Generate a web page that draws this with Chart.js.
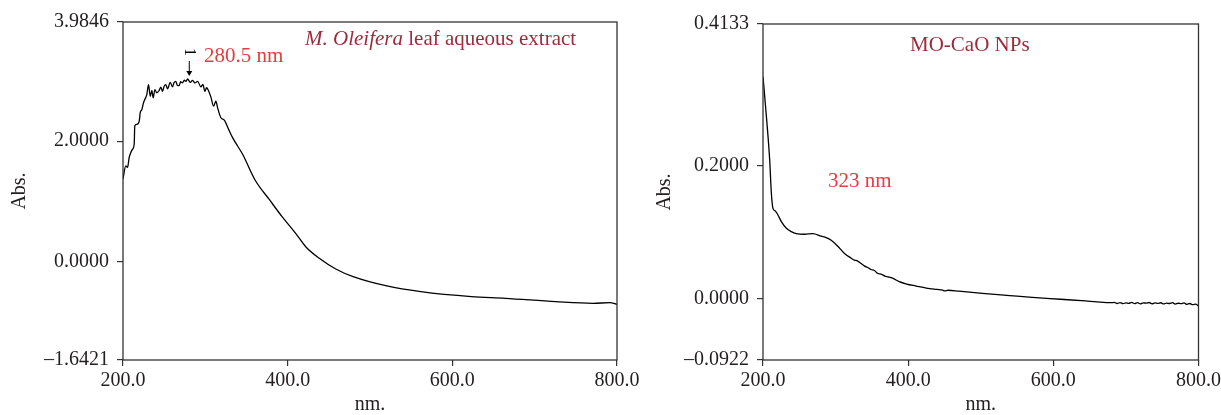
<!DOCTYPE html>
<html>
<head>
<meta charset="utf-8">
<script src="https://cdn.jsdelivr.net/npm/chart.js@4.4.1/dist/chart.umd.min.js"></script>
<style>
  html, body { margin: 0; padding: 0; background: #fff; overflow: hidden; }
  #wrap { position: relative; width: 1221px; height: 415px; }
  .box { position: absolute; top: 0; height: 415px; }
  #leftBox { left: 0; width: 645px; }
  #rightBox { left: 645px; width: 579px; }
</style>
</head>
<body>
<div id="wrap">
  <div class="box" id="leftBox"><canvas id="extractChart"></canvas></div>
  <div class="box" id="rightBox"><canvas id="npChart"></canvas></div>
</div>
<script>
// M. Oleifera leaf aqueous extract (left panel)
const extractWavelengths = [200.0, 203.4, 205.5, 207.5, 209.5, 211.5, 213.6, 214.3, 216.8, 219.7, 220.9, 222.9, 224.9, 226.5, 228.9, 231.0, 233.1, 235.0, 236.7, 238.7, 241.1, 244.0, 246.0, 248.0, 250.0, 252.0, 254.1, 257.4, 260.2, 262.0, 264.2, 266.0, 268.3, 270.0, 272.3, 274.5, 276.4, 278.4, 281.7, 284.5, 287.3, 290.6, 294.6, 297.0, 299.5, 301.5, 303.6, 306.7, 310.0, 312.8, 314.9, 318.9, 323.0, 328.3, 333.1, 339.2, 345.3, 360.4, 378.1, 393.2, 409.7, 421.9, 438.4, 459.0, 479.5, 520.4, 561.7, 623.2, 664.3, 725.8, 770.8, 791.5, 800.0];
const extractAbs = [1.370, 1.590, 1.563, 1.729, 1.812, 1.866, 1.949, 2.252, 2.280, 2.335, 2.474, 2.528, 2.639, 2.694, 2.777, 2.942, 2.748, 2.848, 2.722, 2.859, 2.805, 2.848, 2.900, 2.831, 2.915, 2.942, 2.871, 2.980, 2.904, 2.975, 2.997, 2.930, 2.925, 2.990, 2.970, 3.015, 2.997, 3.036, 2.980, 3.013, 2.970, 2.997, 2.904, 2.945, 2.831, 2.890, 2.848, 2.738, 2.583, 2.666, 2.556, 2.391, 2.351, 2.197, 2.060, 1.921, 1.783, 1.355, 1.022, 0.744, 0.467, 0.244, 0.051, -0.132, -0.255, -0.410, -0.505, -0.588, -0.615, -0.671, -0.698, -0.688, -0.715];
const extractYTicks = [-1.6421, 0, 2, 3.9846];

// MO-CaO NPs (right panel)
const npWavelengths = [200.0, 204.7, 209.2, 211.5, 213.7, 217.0, 220.6, 225.3, 232.2, 239.0, 245.9, 257.3, 268.7, 280.2, 287.1, 294.0, 303.0, 312.3, 321.5, 326.0, 330.0, 335.2, 340.0, 344.0, 348.9, 354.0, 358.0, 362.7, 368.0, 372.0, 378.6, 387.7, 398.0, 410.8, 425.0, 440.0, 447.3, 450.0, 455.0, 470.0, 502.3, 540.0, 571.0, 610.0, 644.3, 660.0, 680, 684, 688, 692, 696, 700, 704, 708, 712, 716, 720, 724, 728, 732, 736, 740, 744, 748, 752, 756, 760, 764, 768, 772, 776, 780, 784, 788, 792, 796, 800];
const npAbs = [0.334, 0.274, 0.209, 0.159, 0.136, 0.132, 0.126, 0.116, 0.106, 0.101, 0.098, 0.097, 0.098, 0.094, 0.092, 0.088, 0.079, 0.068, 0.061, 0.058, 0.057, 0.053, 0.049, 0.047, 0.044, 0.042, 0.038, 0.037, 0.034, 0.033, 0.031, 0.0256, 0.022, 0.0191, 0.016, 0.0140, 0.0131, 0.0118, 0.0127, 0.0113, 0.0081, 0.0048, 0.0021, -0.0008, -0.0034, -0.0048, -0.0060, -0.0055, -0.0072, -0.0058, -0.0075, -0.0062, -0.0070, -0.0056, -0.0074, -0.0060, -0.0078, -0.0063, -0.0066, -0.0057, -0.0076, -0.0062, -0.0070, -0.0061, -0.0079, -0.0065, -0.0072, -0.0060, -0.0080, -0.0068, -0.0074, -0.0063, -0.0085, -0.0072, -0.0090, -0.0082, -0.0110];
const npYTicks = [-0.0922, 0, 0.2, 0.4133];

const xTicks = [200, 400, 600, 800];

const SERIF = '"Liberation Serif", "Times New Roman", serif';
const INK = '#231f20';
const DARK_RED = '#9b2c3c';
const BRIGHT_RED = '#e83a41';
const TICK_SIZE = 20;
const NOTE_SIZE = 21;

function fmtAbs(v) {
  const s = Math.abs(v).toFixed(4);
  return v < 0 ? '\u2013' + s : s;
}

const framePlugin = {
  id: 'frame',
  afterDraw(chart) {
    const { ctx, chartArea: a } = chart;
    ctx.save();
    ctx.strokeStyle = '#333';
    ctx.lineWidth = 1.3;
    ctx.strokeRect(a.left, a.top, a.right - a.left, a.bottom - a.top);
    ctx.restore();
  }
};

function makeChart(canvasId, xs, ys, yTicks, pad, annotate) {
  const points = xs.map((x, i) => ({ x: x, y: ys[i] }));
  return new Chart(document.getElementById(canvasId), {
    type: 'line',
    data: {
      datasets: [{
        data: points,
        borderColor: '#000',
        borderWidth: 1.3,
        pointRadius: 0,
        cubicInterpolationMode: 'monotone',
        fill: false
      }]
    },
    options: {
      responsive: true,
      maintainAspectRatio: false,
      animation: false,
      events: [],
      layout: { padding: pad },
      plugins: { legend: { display: false }, tooltip: { enabled: false } },
      scales: {
        x: {
          type: 'linear',
          min: 200,
          max: 800,
          afterBuildTicks: s => { s.ticks = xTicks.map(v => ({ value: v })); },
          afterFit: s => { s.height = 55; },
          grid: { drawOnChartArea: false, drawTicks: true, tickLength: 6, color: '#333', lineWidth: 1.2 },
          border: { display: false },
          ticks: {
            color: INK,
            font: { family: SERIF, size: TICK_SIZE },
            padding: 3,
            maxRotation: 0,
            callback: v => Number(v).toFixed(1)
          },
          title: { display: true, text: 'nm.', color: INK, font: { family: SERIF, size: TICK_SIZE, lineHeight: 1 }, padding: { top: 0, bottom: 0 } }
        },
        y: {
          type: 'linear',
          min: yTicks[0],
          max: yTicks[yTicks.length - 1],
          afterBuildTicks: s => { s.ticks = yTicks.map(v => ({ value: v })); },
          afterFit: s => { s.width = pad.yWidth; },
          grid: { drawOnChartArea: false, drawTicks: true, tickLength: 6, color: '#333', lineWidth: 1.2 },
          border: { display: false },
          ticks: {
            color: INK,
            font: { family: SERIF, size: TICK_SIZE },
            padding: 8,
            callback: v => fmtAbs(v)
          },
          title: { display: true, text: 'Abs.', color: INK, font: { family: SERIF, size: TICK_SIZE }, padding: { top: 8, bottom: 0 } }
        }
      }
    },
    plugins: [framePlugin, { id: 'notes', afterDraw: annotate }]
  });
}

// left panel: title, peak marker and wavelength
makeChart('extractChart', extractWavelengths, extractAbs, extractYTicks,
  { top: 22, right: 28, left: 0, bottom: 0, yWidth: 123 },
  chart => {
    const { ctx, scales } = chart;
    ctx.save();
    ctx.fillStyle = DARK_RED;
    ctx.textBaseline = 'alphabetic';
    ctx.textAlign = 'left';
    ctx.font = 'italic ' + NOTE_SIZE + 'px ' + SERIF;
    const part1 = 'M. Oleifera';
    ctx.fillText(part1, 305, 45);
    const w1 = ctx.measureText(part1).width;
    ctx.font = NOTE_SIZE + 'px ' + SERIF;
    ctx.fillText(' leaf aqueous extract', 305 + w1, 45);

    // peak marker
    const px = scales.x.getPixelForValue(280.5);
    const tipY = scales.y.getPixelForValue(3.036) - 3;
    ctx.strokeStyle = '#000';
    ctx.fillStyle = '#000';
    ctx.lineWidth = 1;
    ctx.beginPath();
    ctx.moveTo(px, tipY - 15);
    ctx.lineTo(px, tipY - 3);
    ctx.stroke();
    ctx.beginPath();
    ctx.moveTo(px - 3, tipY - 5);
    ctx.lineTo(px + 3, tipY - 5);
    ctx.lineTo(px, tipY);
    ctx.closePath();
    ctx.fill();
    ctx.save();
    ctx.translate(px, tipY - 24);
    ctx.rotate(Math.PI / 2);
    ctx.font = '16px ' + SERIF;
    ctx.textAlign = 'center';
    ctx.textBaseline = 'middle';
    ctx.fillText('1', 0, 0);
    ctx.restore();

    ctx.fillStyle = BRIGHT_RED;
    ctx.font = NOTE_SIZE + 'px ' + SERIF;
    ctx.textAlign = 'left';
    ctx.fillText('280.5 nm', 204, 62);
    ctx.restore();
  });

// right panel
makeChart('npChart', npWavelengths, npAbs, npYTicks,
  { top: 24, right: 24, left: 0, bottom: 0, yWidth: 118 },
  chart => {
    const { ctx } = chart;
    ctx.save();
    ctx.textBaseline = 'alphabetic';
    ctx.textAlign = 'left';
    ctx.font = NOTE_SIZE + 'px ' + SERIF;
    ctx.fillStyle = DARK_RED;
    ctx.fillText('MO-CaO NPs', 910 - 645, 51);
    ctx.fillStyle = BRIGHT_RED;
    ctx.fillText('323 nm', 828 - 645, 187);
    ctx.restore();
  });
</script>
</body>
</html>
